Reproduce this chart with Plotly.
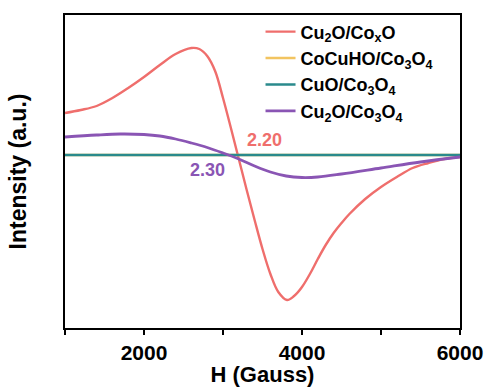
import plotly.graph_objects as go

# Field values (Gauss) and intensities (a.u.)
h_red = [1000, 1200, 1400, 1600, 1800, 2000, 2200, 2400, 2600, 2700, 2800, 2900,
         3000, 3100, 3200, 3300, 3400, 3500, 3600, 3700, 3810, 3900, 4000, 4100,
         4200, 4300, 4400, 4500, 4600, 4800, 5000, 5200, 5400, 5600, 5800, 6000]
i_red = [42, 45, 49, 57, 67, 78, 90, 101, 107, 106, 99, 84,
         57, 27, -4, -35, -65, -94, -119, -137, -145, -141, -132, -119,
         -104, -90, -78, -68, -59, -44, -32, -22, -13, -8, -4, -2]

h_purple = [1000, 1400, 1700, 2000, 2200, 2400, 2600, 2800, 3000, 3200, 3400,
            3600, 3800, 4000, 4200, 4500, 5000, 5500, 6000]
i_purple = [18, 20, 21, 20.5, 19, 16, 12, 7.5, 2, -4, -11,
            -17, -21, -22.5, -22, -19, -13, -7, -2]

h_teal = [1000, 2000, 3000, 4000, 5000, 6000]
i_teal = [0, 0, 0, 0, 0, 0]

h_yellow = [1000, 2000, 3000, 4000, 5000, 6000]
i_yellow = [0, 0, 0, 0, 0, 0]

names = ["Cu<sub>2</sub>O/Co<sub>x</sub>O", "CoCuHO/Co<sub>3</sub>O<sub>4</sub>",
         "CuO/Co<sub>3</sub>O<sub>4</sub>", "Cu<sub>2</sub>O/Co<sub>3</sub>O<sub>4</sub>"]
colors = ["#EF6E6C", "#F2C460", "#2A8A8C", "#8A55B4"]

x_tickvals = [1000, 2000, 3000, 4000, 5000, 6000]
x_ticktext = ["", "2000", "", "4000", "", "6000"]

FONT = "Liberation Sans, Arial, sans-serif"

fig = go.Figure()
fig.add_trace(go.Scatter(x=h_red, y=i_red, mode="lines", name=names[0], legendgroup="a",
                         line=dict(color=colors[0], width=2.4, shape="spline", smoothing=1)))
fig.add_trace(go.Scatter(x=h_yellow, y=i_yellow, mode="lines", name=names[1], legendgroup="b",
                         line=dict(color=colors[1], width=2.4)))
fig.add_trace(go.Scatter(x=h_teal, y=i_teal, mode="lines", name=names[2], legendgroup="c",
                         line=dict(color=colors[2], width=2.4)))
fig.add_trace(go.Scatter(x=h_purple, y=i_purple, mode="lines", name=names[3], legendgroup="d",
                         line=dict(color=colors[3], width=2.8, shape="spline", smoothing=1)))

fig.add_annotation(x=3530, y=15, text="<b>2.20</b>", showarrow=False,
                   font=dict(family=FONT, size=18, color=colors[0]))
fig.add_annotation(x=2810, y=-15, text="<b>2.30</b>", showarrow=False,
                   font=dict(family=FONT, size=18, color=colors[3]))

fig.update_layout(
    width=488, height=387,
    margin=dict(l=65, r=28, t=15, b=59, autoexpand=False),
    paper_bgcolor="white", plot_bgcolor="white",
    font=dict(family=FONT, color="black"),
    showlegend=True,
    legend=dict(x=0.495, y=1.005, xanchor="left", yanchor="top",
                bgcolor="rgba(0,0,0,0)", borderwidth=0,
                font=dict(family=FONT, size=18, color="black", weight="bold"),
                tracegroupgap=0),
    xaxis=dict(range=[1000, 6000], tickvals=x_tickvals, ticktext=x_ticktext,
               ticks="outside", ticklen=5, tickwidth=1.5, tickcolor="black",
               showline=True, linecolor="black", linewidth=1.5, mirror=True,
               showgrid=False, zeroline=False, automargin=False,
               tickfont=dict(family=FONT, size=21, color="black", weight="bold"),
               title=dict(text="<b>H (Gauss)</b>", standoff=0,
                          font=dict(family=FONT, size=22, color="black"))),
    yaxis=dict(range=[-173, 140], showticklabels=False, ticks="",
               showline=True, linecolor="black", linewidth=1.5, mirror=True,
               showgrid=False, zeroline=False, automargin=False,
               title=dict(text="<b>Intensity (a.u.)</b>", standoff=30,
                          font=dict(family=FONT, size=23, color="black"))),
)

fig.write_html("out.html", config={"displayModeBar": False},
               post_script="document.body.style.margin='0';")
